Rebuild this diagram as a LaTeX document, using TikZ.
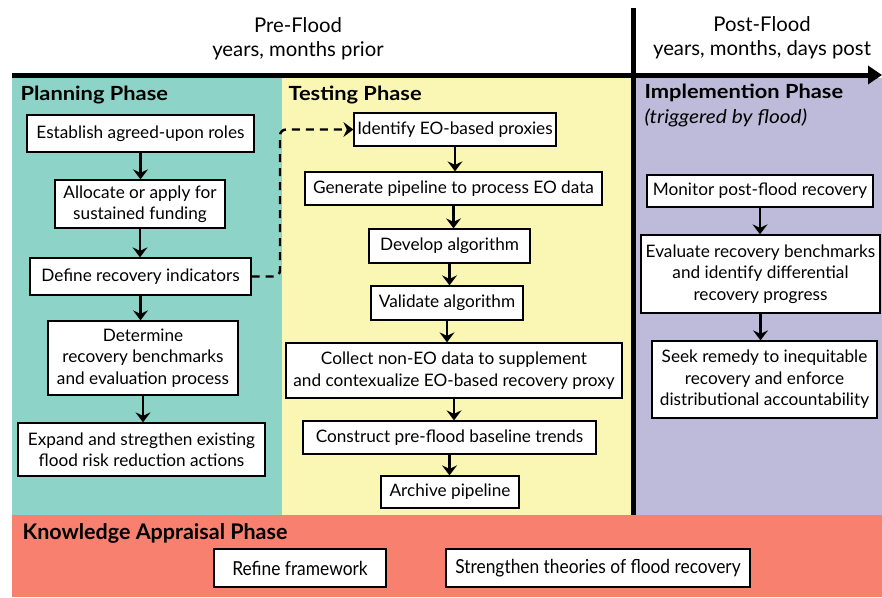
\documentclass[tikz,border=0pt]{standalone}
\usepackage{fontspec}
\setmainfont{Lato}
\newfontfamily\condfont[FakeStretch=0.9]{Lato}
\newfontfamily\titlefont[FakeStretch=1.12]{Lato}
\newfontfamily\italfont[FakeStretch=1.1]{Lato}
\usetikzlibrary{arrows.meta}
\definecolor{planc}{HTML}{8DD3C7}
\definecolor{testc}{HTML}{FAF6B4}
\definecolor{implc}{HTML}{BEBADA}
\definecolor{knowc}{HTML}{F7806F}
\tikzset{
  box/.style={draw=black, fill=white, line width=1.3pt, align=center, inner sep=2pt,
    font=\fontsize{17.2}{21.5}\selectfont},
  kbox/.style={box, font=\condfont\fontsize{19.3}{21}\selectfont},
  flow/.style={line width=2.3pt, -{Stealth[length=10pt,width=15pt,inset=3.5pt]}},
  dflow/.style={line width=2.4pt, dash pattern=on 8pt off 6pt, rounded corners=6pt,
    -{Stealth[length=10pt,width=15pt,inset=3.5pt]}},
  phase/.style={anchor=west, font=\titlefont\bfseries\fontsize{19.5}{22}\selectfont},
  toplbl/.style={font=\fontsize{20.3}{24}\selectfont}
}
\begin{document}
\begin{tikzpicture}[x=1pt,y=-1pt]
\useasboundingbox (0,0) rectangle (882,597);
% panels
\fill[planc] (12,78) rectangle (282,515);
\fill[testc] (282,78) rectangle (632,515);
\fill[implc] (632,78) rectangle (882,515);
\fill[knowc] (12,515) rectangle (882,597);
% timeline
\coordinate (tlA) at (12,75);
\coordinate (tlB) at (882,75);
\draw[line width=5pt, -{Triangle[length=14pt,width=18pt]}] (tlA) -- (tlB);
\coordinate (vA) at (633,8);
\coordinate (vB) at (633,515);
\draw[line width=5pt] (vA) -- (vB);
% top labels
\node[toplbl] (pre1) at (298,25) {Pre-Flood};
\node[toplbl] (pre2) at (298,51) {years, months prior};
\node[toplbl] (post1) at (762,24) {Post-Flood};
\node[toplbl] (post2) at (762,50) {years, months, days post};
% phase titles
\node[phase] (tplan) at (17,95) {Planning Phase};
\node[phase] (ttest) at (285,95) {Testing Phase};
\node[phase] (timpl) at (641,93) {Implemention Phase};
\node[anchor=west, font=\italfont\itshape\fontsize{19}{22}\selectfont] (ttrig) at (641,118) {(triggered by flood)};
\node[phase, font=\bfseries\fontsize{21.5}{24}\selectfont] (tknow) at (19,533) {Knowledge Appraisal Phase};
% planning boxes
\node[box, minimum width=227pt, minimum height=37pt] (P1) at (140.5,133.5) {Establish agreed-upon roles};
\node[box, minimum width=170pt, minimum height=48pt] (P2) at (140,204) {Allocate or apply for\\sustained funding};
\node[box, minimum width=221pt, minimum height=37pt] (P3) at (140.5,276.5) {Define recovery indicators};
\node[box, minimum width=190pt, minimum height=74pt] (P4) at (143,358) {Determine\\recovery benchmarks\\and evaluation process};
\node[box, minimum width=247pt, minimum height=53pt] (P5) at (141.5,449.5) {Expand and stregthen existing\\flood risk reduction actions};
% testing boxes
\node[box, minimum width=202pt, minimum height=33pt] (T1) at (455,129.5) {Identify EO-based proxies};
\node[box, minimum width=297pt, minimum height=33pt] (T2) at (453.5,188.5) {Generate pipeline to process EO data};
\node[box, minimum width=161pt, minimum height=34pt] (T3) at (449.5,246) {Develop algorithm};
\node[box, minimum width=152pt, minimum height=34pt] (T4) at (447,303) {Validate algorithm};
\node[box, minimum width=336pt, minimum height=55pt] (T5) at (454,370.5) {Collect non-EO data to supplement\\and contexualize EO-based recovery proxy};
\node[box, minimum width=293pt, minimum height=33pt] (T6) at (449.5,437.5) {Construct pre-flood baseline trends};
\node[box, minimum width=138pt, minimum height=32pt] (T7) at (450,492) {Archive pipeline};
% implementation boxes
\node[box, minimum width=226pt, minimum height=32pt] (I1) at (760,191) {Monitor post-flood recovery};
\node[box, minimum width=239pt, minimum height=78pt] (I2) at (760.5,274) {Evaluate recovery benchmarks\\and identify differential\\recovery progress};
\node[box, minimum width=225pt, minimum height=77pt] (I3) at (764.5,379.5) {Seek remedy to inequitable\\recovery and enforce\\distributional accountability};
% knowledge boxes
\node[kbox, minimum width=172pt, minimum height=38pt] (K1) at (300,568) {Refine framework};
\node[kbox, minimum width=304pt, minimum height=38pt] (K2) at (598,568) {Strengthen theories of flood recovery};
% arrows
\draw[flow] (P1.south) -- (P1.south |- P2.north);
\draw[flow] (P2.south) -- (P2.south |- P3.north);
\draw[flow] (P3.south) -- (P3.south |- P4.north);
\draw[flow] (P4.south) -- (P4.south |- P5.north);
\draw[flow] (T1.south) -- (T1.south |- T2.north);
\draw[flow] (T2.south) -- (T2.south |- T3.north);
\draw[flow] (T3.south) -- (T3.south |- T4.north);
\draw[flow] (T4.south) -- (T4.south |- T5.north);
\draw[flow] (T5.south) -- (T5.south |- T6.north);
\draw[flow] (T6.south) -- (T6.south |- T7.north);
\draw[flow] (I1.south) -- (I1.south |- I2.north);
\draw[flow] (I2.south) -- (I2.south |- I3.north);
\coordinate (dbend) at (280,0);
\draw[dflow] (P3.east) -- (dbend |- P3.east) -- (dbend |- T1.west) -- (T1.west);
\end{tikzpicture}
\end{document}
